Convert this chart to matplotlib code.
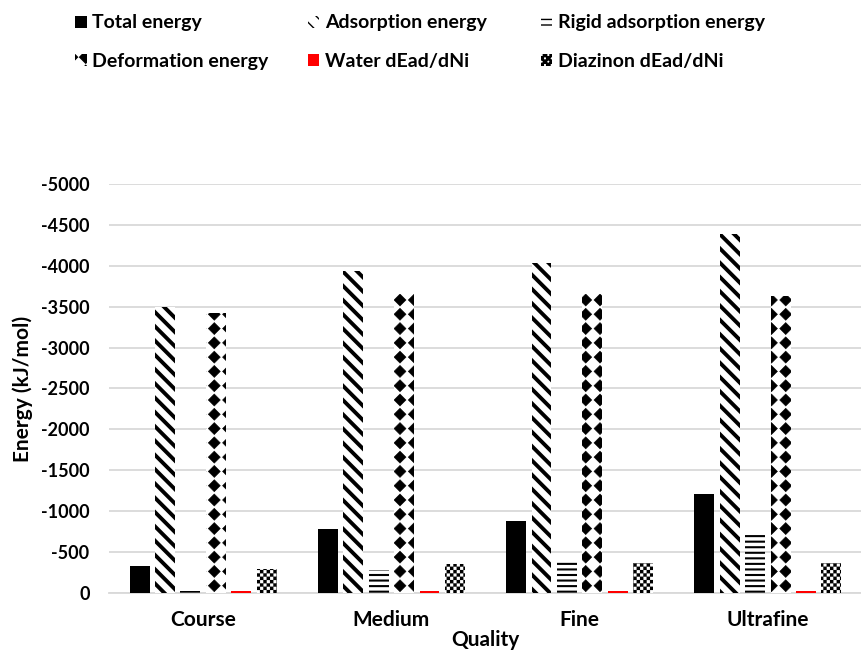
import numpy as np
import matplotlib
matplotlib.use("Agg")
import matplotlib.pyplot as plt
import matplotlib.hatch as mhatch
from matplotlib.path import Path
from matplotlib.patches import Patch
from matplotlib.ticker import FuncFormatter

# energies per mesh quality (kJ/mol)
categories = ['Course', 'Medium', 'Fine', 'Ultrafine']
total_energy = [-330, -782, -880, -1207]
adsorption_energy = [-3500, -3940, -4038, -4385]
rigid_energy = [-30, -281, -403, -746]
deformation_energy = [-3423, -3651, -3650, -3631]
water_dead = [-25, -25, -25, -25]
diazinon_dead = [-295, -355, -365, -363]

series_names = ['Total energy', 'Adsorption energy', 'Rigid adsorption energy',
                'Deformation energy', 'Water dEad/dNi', 'Diazinon dEad/dNi']


# fill patterns with a fixed number of repeats per inch
# '\\' -> diagonal stripes, '*' -> grid of filled diamonds, 'O' -> checkerboard
class StripeHatch(mhatch.HatchPatternBase):
    def __init__(self, hatch, density):
        self.num_lines = hatch.count('\\') * 7
        self.num_vertices = (2 * self.num_lines + 1) * 2 if self.num_lines else 0

    def set_vertices_and_codes(self, vertices, codes):
        c = np.linspace(0, 2, 2 * self.num_lines + 1)
        vertices[0::2, 0] = c
        vertices[0::2, 1] = 0.0
        vertices[1::2, 0] = c - 1.0
        vertices[1::2, 1] = 1.0
        codes[0::2] = Path.MOVETO
        codes[1::2] = Path.LINETO


class DiamondHatch(mhatch.HatchPatternBase):
    def __init__(self, hatch, density):
        self.num_rows = hatch.count('*') * 7
        self.num_vertices = (self.num_rows + 1) ** 2 * 5 if self.num_rows else 0

    def set_vertices_and_codes(self, vertices, codes):
        n = self.num_rows
        step = 1.0 / n
        shape = Path.unit_regular_polygon(4)
        verts = shape.vertices * step * 0.42
        parts = [verts + [i * step, j * step] for i in range(n + 1) for j in range(n + 1)]
        vertices[:] = np.concatenate(parts)
        codes[:] = np.tile(shape.codes, len(parts))


class CheckerHatch(mhatch.HatchPatternBase):
    def __init__(self, hatch, density):
        self.num_cells = hatch.count('O') * 30
        self.num_vertices = (self.num_cells ** 2 // 2) * 5

    def set_vertices_and_codes(self, vertices, codes):
        n = self.num_cells
        s = 1.0 / n
        square = np.array([[0, 0], [s, 0], [s, s], [0, s], [0, 0]])
        parts = [square + [i * s, j * s] for i in range(n) for j in range(n) if (i + j) % 2 == 0]
        vertices[:] = np.concatenate(parts)
        codes[:] = np.tile([Path.MOVETO, Path.LINETO, Path.LINETO, Path.LINETO, Path.CLOSEPOLY],
                           len(parts))


replaced = (mhatch.SouthEastHatch, mhatch.Stars, mhatch.LargeCircles)
mhatch._hatch_types = [t for t in mhatch._hatch_types if t not in replaced] + \
    [StripeHatch, DiamondHatch, CheckerHatch]

plt.rcParams['font.family'] = ['Lato', 'DejaVu Sans']
plt.rcParams['font.weight'] = 'bold'
plt.rcParams['axes.unicode_minus'] = False

# (facecolor, hatch, hatch linewidth)
styles = [
    ('black', None, 1.0),
    ('white', '\\', 2.8),
    ('white', '---', 1.5),
    ('white', '*', 0.4),
    ('#ff0000', None, 1.0),
    ('white', 'O', 0.1),
]
series = [total_energy, adsorption_energy, rigid_energy,
          deformation_energy, water_dead, diazinon_dead]

fig = plt.figure(figsize=(8.62, 6.54), dpi=100)
ax = fig.add_axes([0.1265, 0.0933, 0.8735, 0.6254])

x = np.arange(len(categories))
step = 0.135
width = 0.106
handles = []
for i, (vals, name, (fc, hatch, hlw)) in enumerate(zip(series, series_names, styles)):
    with plt.rc_context({'hatch.linewidth': hlw}):
        bars = ax.bar(x + (i - 2.5) * step, vals, width, color=fc, hatch=hatch,
                      edgecolor='black' if hatch else fc, linewidth=0, zorder=3)
        h = Patch(facecolor=fc, hatch=hatch, edgecolor='black' if hatch else fc, linewidth=0)
    for b in list(bars) + [h]:
        if hasattr(b, 'set_hatch_linewidth'):
            b.set_hatch_linewidth(hlw)
    handles.append(h)

ax.set_xlim(-0.5, 3.5)
ax.set_ylim(0, -5000)
ax.set_yticks(np.arange(0, -5001, -500))
ax.yaxis.set_major_formatter(FuncFormatter(lambda v, p: f'{v:.0f}'))
ax.set_xticks(x)
ax.set_xticklabels(categories)
ax.tick_params(axis='both', length=0)
ax.tick_params(axis='y', pad=14, labelsize=13)
ax.tick_params(axis='x', pad=12, labelsize=15)
ax.grid(axis='y', color='#d9d9d9', linewidth=1.3, zorder=0)
for side in ('left', 'right', 'top'):
    ax.spines[side].set_visible(False)
ax.spines['bottom'].set_color('#d9d9d9')
ax.spines['bottom'].set_linewidth(1.3)

ax.set_ylabel('Energy (kJ/mol)', fontsize=15, fontweight='bold', labelpad=6)
ax.set_xlabel('Quality', fontsize=15, fontweight='bold', labelpad=0)

# legend: three columns of two rows above the plot
for col, left in enumerate([0.0875, 0.357, 0.6275]):
    fig.legend([handles[col], handles[col + 3]], [series_names[col], series_names[col + 3]],
               loc='upper left', bbox_to_anchor=(left, 0.978),
               frameon=False, fontsize=14, handlelength=0.57, handleheight=0.57,
               handletextpad=0.3, labelspacing=1.12, borderpad=0, borderaxespad=0)

fig.savefig('out.png', dpi=100)
